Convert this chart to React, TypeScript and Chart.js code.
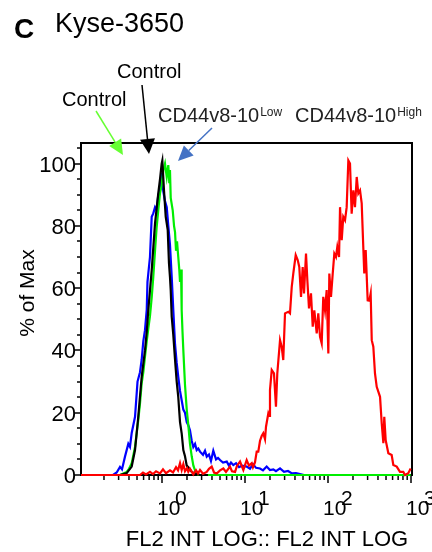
import { useEffect, useRef } from "react";
import { Chart, registerables } from "chart.js";

Chart.register(...registerables);

// ---- text ----
const panelLetter = "C";
const panelTitle = "Kyse-3650";
const yTitle = "% of Max";
const xTitle = "FL2 INT LOG:: FL2 INT LOG";
const yTickLabels = [0, 20, 40, 60, 80, 100];
const xMajorDecades = [0, 1, 2, 3];
const xMinorMultiples = [2, 3, 4, 5, 6, 7, 8, 9];

// ---- data: [log10(FL2 intensity), % of max] ----
const blackCurve: number[][] = [
  [-0.506, 0], [-0.425, 0.6], [-0.365, 2.7], [-0.325, 8], [-0.286, 18.7], [-0.245, 31.5],
  [-0.205, 40], [-0.184, 46], [-0.165, 53], [-0.124, 65.8], [-0.084, 80.8], [-0.045, 90.4],
  [-0.024, 95], [-0.004, 100], [0.004, 101], [0.024, 91.4], [0.045, 82.9], [0.069, 78.6],
  [0.084, 68], [0.096, 63.6], [0.105, 59.4], [0.117, 50.8], [0.136, 45], [0.157, 37],
  [0.177, 30], [0.196, 25], [0.217, 17], [0.237, 13.4], [0.257, 8], [0.277, 6],
  [0.298, 3], [0.317, 2.5], [0.358, 1], [0.398, 0.5], [0.458, 0], [0.554, 0],
];

const blueCurve: number[][] = [
  [-0.59, 0], [-0.546, 0.8], [-0.506, 2.6], [-0.482, 1.8], [-0.446, 5.9], [-0.406, 10],
  [-0.386, 9], [-0.365, 13.5], [-0.325, 18.7], [-0.295, 30], [-0.265, 33], [-0.245, 37],
  [-0.225, 43], [-0.205, 46.5], [-0.184, 53], [-0.175, 62], [-0.165, 64.7], [-0.145, 70],
  [-0.124, 82.9], [-0.105, 84], [-0.084, 86], [-0.064, 85], [-0.045, 90], [-0.024, 91.4],
  [-0.006, 97], [0.016, 91], [0.036, 88], [0.057, 86], [0.076, 80], [0.096, 74],
  [0.117, 63.6], [0.136, 53], [0.157, 42], [0.177, 36], [0.196, 31.5], [0.217, 27],
  [0.237, 24], [0.257, 21], [0.277, 20], [0.298, 17], [0.317, 16], [0.337, 14.4],
  [0.358, 11], [0.377, 9], [0.398, 10], [0.418, 8], [0.437, 8.5], [0.458, 7.5],
  [0.494, 6.5], [0.518, 7.8], [0.539, 5.9], [0.566, 6.6], [0.59, 4.5], [0.618, 7.8],
  [0.651, 5], [0.675, 5.5], [0.699, 4.8], [0.735, 4], [0.78, 4.3], [0.807, 3],
  [0.831, 4], [0.859, 3.2], [0.892, 3.8], [0.928, 2.5], [0.964, 3], [1.02, 2.7],
  [1.06, 2], [1.096, 3.5], [1.133, 2.3], [1.181, 2.1], [1.217, 1.5], [1.261, 2.7],
  [1.301, 1.6], [1.341, 1.8], [1.373, 1.2], [1.422, 2.1], [1.47, 1], [1.518, 1.3],
  [1.566, 0.5], [1.614, 0.6], [1.663, 0.3], [1.711, 0],
];

const greenCurve: number[][] = [
  [-0.59, 0], [-0.506, 0], [-0.425, 1], [-0.398, 2], [-0.365, 3.8], [-0.325, 9],
  [-0.286, 17.6], [-0.265, 23], [-0.245, 29.4], [-0.225, 33], [-0.205, 38], [-0.184, 43],
  [-0.165, 47], [-0.145, 51], [-0.124, 57], [-0.105, 63.6], [-0.084, 72], [-0.064, 79.7],
  [-0.045, 85], [-0.024, 90.5], [-0.004, 93], [0.016, 97.9], [0.036, 100], [0.057, 95.7],
  [0.076, 99.5], [0.087, 94], [0.096, 97.9], [0.105, 89], [0.129, 85], [0.145, 80],
  [0.157, 78], [0.169, 72], [0.181, 75], [0.196, 70], [0.208, 66], [0.217, 62],
  [0.229, 66], [0.237, 53], [0.247, 46], [0.257, 40], [0.277, 29], [0.298, 21],
  [0.317, 16], [0.337, 10], [0.358, 6], [0.378, 3], [0.398, 1.5], [0.418, 0.5],
  [0.437, 0], [2.996, 0],
];

const redCurve: number[][] = [
  [-0.976, 0], [-0.265, 0], [-0.229, 0.8], [-0.193, 0.2], [-0.145, 1], [-0.108, 0.3],
  [-0.072, 1.2], [-0.024, 0.5], [0.012, 1.8], [0.048, 0.6], [0.096, 1.5], [0.133, 0.8],
  [0.169, 2.5], [0.193, 1.5], [0.217, 3.8], [0.237, 1.6], [0.257, 3.5], [0.277, 1.2],
  [0.301, 2.2], [0.317, 1], [0.337, 2], [0.377, 0.2], [0.41, 1.5], [0.434, 0.5],
  [0.458, 1.6], [0.494, 0.4], [0.539, 1], [0.566, 2], [0.599, 2.7], [0.627, 0.8],
  [0.659, 0.5], [0.699, 1.5], [0.739, 2.1], [0.771, 1], [0.819, 2.7], [0.843, 1.2],
  [0.88, 1], [0.904, 3], [0.94, 4.3], [0.98, 1.6], [1.02, 4.8], [1.048, 3],
  [1.081, 3.8], [1.096, 2.5], [1.12, 4], [1.141, 7.5], [1.16, 7.5], [1.181, 11],
  [1.201, 12.5], [1.22, 13.4], [1.241, 11.5], [1.253, 15.5], [1.281, 19.8], [1.293, 19],
  [1.301, 27.3], [1.322, 33.7], [1.349, 32.6], [1.373, 21.9], [1.389, 32.6], [1.422, 43.3],
  [1.442, 41.2], [1.461, 36.9], [1.482, 51.9], [1.522, 52.4], [1.542, 51.9], [1.563, 60.4],
  [1.582, 64.7], [1.611, 70.6], [1.635, 69], [1.654, 66.8], [1.675, 57.2], [1.695, 66.8],
  [1.711, 58.3], [1.735, 71.1], [1.751, 62.6], [1.771, 53.5], [1.795, 58.3], [1.816, 47.6],
  [1.835, 52.9], [1.864, 45.5], [1.883, 51.9], [1.904, 44.4], [1.924, 42.3], [1.943, 57.2],
  [1.964, 52.9], [1.984, 59.4], [2.004, 39], [2.016, 64.7], [2.036, 57.2], [2.057, 64.7],
  [2.076, 71.1], [2.096, 70], [2.112, 73.2], [2.133, 70], [2.145, 86], [2.165, 75.4],
  [2.184, 82.9], [2.205, 81.8], [2.225, 86], [2.245, 101], [2.265, 100], [2.285, 83.9],
  [2.305, 91.4], [2.325, 86], [2.346, 95.7], [2.365, 90.4], [2.386, 91.4], [2.406, 87.2],
  [2.425, 73.2], [2.437, 64.7], [2.454, 72.2], [2.478, 56.1], [2.498, 56], [2.514, 58.3],
  [2.527, 43.3], [2.546, 41.2], [2.566, 32.6], [2.587, 28.3], [2.627, 25.1], [2.647, 16.6],
  [2.667, 10.2], [2.678, 18.7], [2.695, 11.2], [2.727, 7], [2.767, 6.4], [2.787, 3.2],
  [2.828, 2.7], [2.867, 1], [2.907, 1], [2.928, 0], [2.967, 0.6], [2.996, 2.1],
];

const FONT = "'Liberation Sans', Arial, Helvetica, sans-serif";

const toPoints = (c: number[][]) => c.map(([d, v]) => ({ x: Math.pow(10, d), y: v }));

function arrow(ctx: CanvasRenderingContext2D, x0: number, y0: number, x1: number, y1: number, color: string, lw: number, hl: number, hw: number) {
  const ang = Math.atan2(y1 - y0, x1 - x0);
  const bx = x1 - Math.cos(ang) * hl;
  const by = y1 - Math.sin(ang) * hl;
  ctx.strokeStyle = color;
  ctx.fillStyle = color;
  ctx.lineWidth = lw;
  ctx.beginPath();
  ctx.moveTo(x0, y0);
  ctx.lineTo(bx, by);
  ctx.stroke();
  ctx.beginPath();
  ctx.moveTo(x1, y1);
  ctx.lineTo(bx + Math.sin(ang) * hw / 2, by - Math.cos(ang) * hw / 2);
  ctx.lineTo(bx - Math.sin(ang) * hw / 2, by + Math.cos(ang) * hw / 2);
  ctx.closePath();
  ctx.fill();
}

const decor = {
  id: "decor",
  beforeDatasetsDraw(chart: any) {
    const { ctx, chartArea: a, scales } = chart;
    const xs = scales.x;
    const ys = scales.y;
    ctx.save();
    ctx.strokeStyle = "#000";
    ctx.lineWidth = 2;
    ctx.strokeRect(a.left, a.top, a.right - a.left, a.bottom - a.top);
    ctx.lineWidth = 1.5;
    // y ticks (every 5, major every 20)
    for (let v = 0; v <= ys.max; v += 5) {
      const py = Math.round(ys.getPixelForValue(v));
      const len = yTickLabels.includes(v) ? 6 : 4;
      ctx.beginPath();
      ctx.moveTo(a.left - len, py);
      ctx.lineTo(a.left, py);
      ctx.stroke();
    }
    // x ticks
    for (const d of xMajorDecades) {
      const px = xs.getPixelForValue(Math.pow(10, d));
      ctx.beginPath();
      ctx.moveTo(px, a.bottom);
      ctx.lineTo(px, a.bottom + 8);
      ctx.stroke();
    }
    for (const d of [-1, 0, 1, 2]) {
      for (const m of xMinorMultiples) {
        const v = m * Math.pow(10, d);
        if (v < xs.min || v > xs.max) continue;
        const px = xs.getPixelForValue(v);
        ctx.beginPath();
        ctx.moveTo(px, a.bottom);
        ctx.lineTo(px, a.bottom + 5);
        ctx.stroke();
      }
    }
    ctx.restore();
  },
  afterDraw(chart: any) {
    const { ctx, chartArea: a, scales } = chart;
    const xs = scales.x;
    const ys = scales.y;
    ctx.save();
    ctx.fillStyle = "#000";
    // y tick labels
    ctx.font = `22px ${FONT}`;
    ctx.textAlign = "right";
    ctx.textBaseline = "middle";
    for (const v of yTickLabels) {
      ctx.fillText(String(v), a.left - 5, ys.getPixelForValue(v) + 2);
    }
    // x tick labels 10^n
    ctx.textAlign = "left";
    ctx.textBaseline = "alphabetic";
    for (const d of xMajorDecades) {
      const px = xs.getPixelForValue(Math.pow(10, d));
      ctx.font = `21px ${FONT}`;
      ctx.fillText("10", px - 5, 515);
      ctx.fillText(String(d), px + 13, 505);
    }
    // axis titles
    ctx.font = `22px ${FONT}`;
    ctx.textAlign = "center";
    ctx.fillText(xTitle, 267, 546);
    ctx.save();
    ctx.translate(34, 293);
    ctx.rotate(-Math.PI / 2);
    ctx.font = `21px ${FONT}`;
    ctx.fillText(yTitle, 0, 0);
    ctx.restore();
    // panel title
    ctx.textAlign = "left";
    ctx.font = `bold 28px ${FONT}`;
    ctx.fillText(panelLetter, 14, 38);
    ctx.font = `27px ${FONT}`;
    ctx.fillText(panelTitle, 55, 32);
    // annotations
    ctx.font = `20px ${FONT}`;
    ctx.fillText("Control", 117, 78);
    ctx.fillText("Control", 62, 106);
    ctx.fillStyle = "#222";
    const sup = (x: number, base: string, s: string) => {
      ctx.font = `20px ${FONT}`;
      ctx.fillText(base, x, 122);
      const w = ctx.measureText(base).width;
      ctx.font = `12px ${FONT}`;
      ctx.fillText(s, x + w + 1, 116);
    };
    sup(158, "CD44v8-10", "Low");
    sup(295, "CD44v8-10", "High");
    // arrows
    arrow(ctx, 96, 111, 123, 155, "#66ff33", 1.5, 15, 14);
    arrow(ctx, 142, 85, 149, 154, "#000000", 1.5, 15, 15);
    arrow(ctx, 212, 128, 178, 161, "#4472c4", 1.5, 15, 14);
    ctx.restore();
  },
};

export default function App() {
  const ref = useRef<HTMLCanvasElement>(null);
  useEffect(() => {
    const mk = (c: number[][], color: string) => ({
      data: toPoints(c),
      borderColor: color,
      backgroundColor: color,
      borderWidth: 2.2,
      pointRadius: 0,
      tension: 0,
      fill: false,
      clip: 4,
    });
    const chart = new Chart(ref.current!, {
      type: "line",
      data: {
        datasets: [
          mk(redCurve, "#ff0000"),
          mk(blackCurve, "#000000"),
          mk(greenCurve, "#00ee00"),
          mk(blueCurve, "#0000ff"),
        ] as any,
      },
      options: {
        animation: false,
        responsive: false,
        devicePixelRatio: 1,
        layout: { padding: { left: 81, right: 20, top: 143, bottom: 77 } },
        plugins: { legend: { display: false }, tooltip: { enabled: false } },
        scales: {
          x: { type: "logarithmic", min: 0.1057, max: 1028, display: false },
          y: { type: "linear", min: 0, max: 106.6, display: false },
        },
      },
      plugins: [decor],
    });
    return () => chart.destroy();
  }, []);
  return (
    <div style={{ position: "absolute", left: 0, top: 0, width: 432, height: 552, background: "#fff" }}>
      <canvas ref={ref} width={432} height={552} style={{ display: "block" }} />
    </div>
  );
}
